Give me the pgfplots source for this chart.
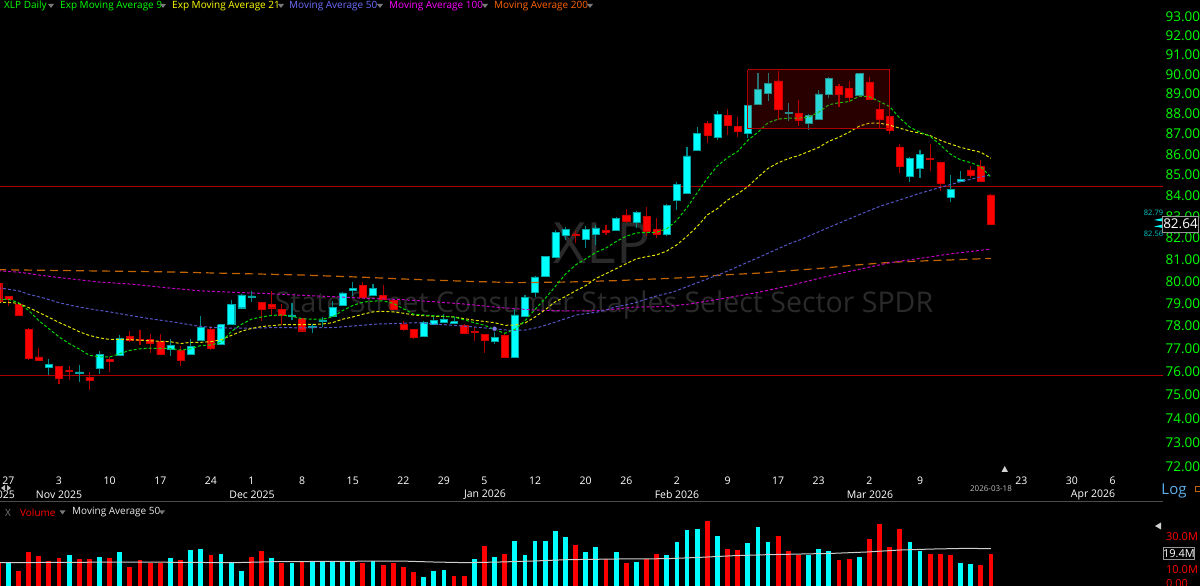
\documentclass[border=0pt]{standalone}
\usepackage{fontspec}
\usepackage{pgfplots}
\pgfplotsset{compat=1.18}
\setmainfont{Open Sans}
\definecolor{cy}{RGB}{0,255,255}
\definecolor{cyb}{RGB}{0,165,165}
\definecolor{cyw}{RGB}{0,135,135}
\definecolor{rd}{RGB}{255,0,0}
\definecolor{rdb}{RGB}{205,0,0}
\definecolor{rdw}{RGB}{175,0,0}
\definecolor{gr}{RGB}{0,215,0}
\definecolor{yl}{RGB}{225,225,0}
\definecolor{bl}{RGB}{85,85,200}
\definecolor{mg}{RGB}{195,0,195}
\definecolor{og}{RGB}{195,100,0}
\definecolor{wm}{RGB}{42,42,42}
\definecolor{tickg}{RGB}{0,255,0}
\newcommand{\fs}[1]{\fontsize{#1}{#1}\selectfont}
\newcommand{\Cy}[5]{\pgfmathsetmacro\xa{#1-0.35}\pgfmathsetmacro\xb{#1+0.35}%
 \addplot[cyw,line width=1.1pt,forget plot] coordinates {(#1,#2)(#1,#3)};%
 \addplot[draw=cyb,fill=cy,line width=.45pt,forget plot] coordinates {(\xa,#4)(\xb,#4)(\xb,#5)(\xa,#5)(\xa,#4)};}
\newcommand{\Rd}[5]{\pgfmathsetmacro\xa{#1-0.35}\pgfmathsetmacro\xb{#1+0.35}%
 \addplot[rdw,line width=1.1pt,forget plot] coordinates {(#1,#2)(#1,#3)};%
 \addplot[draw=rdb,fill=rd,line width=.45pt,forget plot] coordinates {(\xa,#4)(\xb,#4)(\xb,#5)(\xa,#5)(\xa,#4)};}
\begin{document}
\begin{tikzpicture}[x=1pt,y=1pt]
\path[use as bounding box] (0,0) rectangle (1200,586);
\fill[black] (0,0) rectangle (1200,586);
% watermarks
\node[wm,anchor=center,inner sep=0pt] at (602,343) {\fs{57}XLP};
\node[wm,anchor=center,inner sep=0pt] at (604,281) {\fs{28.5}State Street Consumer Staples Select Sector SPDR};
% price pane (logarithmic price scale)
\begin{axis}[at={(0pt,111pt)},anchor=south west,scale only axis,width=1163pt,height=475pt,
 xmin=0.178,xmax=114.985,ymin=71.63,ymax=93.85,
 y coord trafo/.code={\pgfmathparse{100*ln(#1)}},
 y coord inv trafo/.code={\pgfmathparse{exp(#1/100)}},
 axis line style={draw=none},major tick length=0pt,minor tick length=0pt,
 yticklabel pos=right,
 ytick={72,73,74,75,76,77,78,79,80,81,82,83,84,85,86,87,88,89,90,91,92,93},
 yticklabels={72.00,73.00,74.00,75.00,76.00,77.00,78.00,79.00,80.00,81.00,82.00,83.00,84.00,85.00,86.00,87.00,88.00,89.00,90.00,91.00,92.00,93.00},
 y tick label style={text=tickg,font=\fs{13.5},anchor=west,inner sep=0pt,xshift=2.5pt,yshift=-0.7pt},
 xtick={1,6,11,16,21,25,30,35,40,44,48,53,58,62,67,72,77,81,86,91,101,106,110},
 xticklabels={27,3,10,17,24,1,8,15,22,29,5,12,20,26,2,9,17,23,2,9,23,30,6},
 x tick label style={white,font=\fs{10.5},anchor=center,inner sep=0pt,yshift=-5.5pt}]
\addplot[rdw,line width=.9pt,forget plot] coordinates {(0.178,84.41)(114.985,84.41)};
\addplot[rdw,line width=.6pt,forget plot] coordinates {(0.178,75.83)(114.985,75.83)};
% candles: index, high, low, body top, body bottom
\Rd{0}{79.90}{79.10}{79.88}{79.10}
\Rd{1}{79.33}{78.88}{79.31}{79.19}
\Rd{2}{79.05}{78.44}{78.94}{78.44}
\Rd{3}{77.91}{76.49}{77.84}{76.55}
\Rd{4}{76.98}{76.48}{76.62}{76.48}
\Cy{5}{76.52}{75.83}{76.30}{76.16}
\Rd{6}{76.20}{75.46}{76.20}{75.69}
\Rd{7}{76.22}{75.59}{76.02}{75.98}
\Cy{8}{76.25}{75.53}{75.96}{75.89}
\Rd{9}{75.96}{75.19}{75.74}{75.59}
\Cy{10}{76.86}{75.87}{76.72}{76.10}
\Rd{11}{76.62}{75.97}{76.51}{76.44}
\Cy{12}{77.55}{76.65}{77.42}{76.67}
\Rd{13}{77.73}{77.28}{77.51}{77.32}
\Rd{14}{77.81}{77.13}{77.38}{77.34}
\Rd{15}{77.62}{76.80}{77.37}{77.23}
\Rd{16}{77.62}{76.73}{77.28}{76.73}
\Cy{17}{77.38}{76.65}{77.13}{76.95}
\Rd{18}{77.08}{76.23}{76.92}{76.48}
\Cy{19}{77.41}{76.70}{77.09}{76.72}
\Cy{20}{78.41}{77.33}{77.91}{77.33}
\Rd{21}{77.96}{76.91}{77.81}{76.98}
\Cy{22}{78.08}{77.16}{78.04}{77.16}
\Cy{23}{79.13}{78.03}{78.94}{78.03}
\Cy{24}{79.43}{78.79}{79.37}{78.79}
\Cy{25}{79.55}{79.03}{79.33}{79.27}
\Rd{26}{79.04}{78.18}{79.04}{78.75}
\Rd{27}{79.55}{78.46}{78.94}{78.79}
\Rd{28}{78.94}{78.02}{78.72}{78.46}
\Cy{29}{79.01}{78.24}{78.47}{78.39}
\Rd{30}{78.30}{77.72}{78.30}{77.76}
\Cy{31}{78.06}{77.67}{77.98}{77.92}
\Cy{32}{78.38}{77.94}{78.25}{78.16}
\Cy{33}{79.10}{78.39}{78.82}{78.39}
\Cy{34}{79.49}{78.91}{79.45}{78.91}
\Cy{35}{79.93}{79.33}{79.66}{79.58}
\Rd{36}{79.94}{79.27}{79.80}{79.27}
\Cy{37}{79.88}{79.37}{79.67}{79.37}
\Rd{38}{79.80}{79.13}{79.34}{79.16}
\Rd{39}{79.16}{78.75}{79.13}{78.75}
\Rd{40}{78.19}{77.74}{78.03}{77.84}
\Rd{41}{77.81}{77.41}{77.81}{77.50}
\Cy{42}{78.19}{77.53}{78.12}{77.53}
\Cy{43}{78.39}{78.00}{78.24}{78.03}
\Cy{44}{78.49}{78.10}{78.28}{78.13}
\Cy{45}{78.37}{78.07}{78.16}{78.10}
\Rd{46}{78.06}{77.66}{78.00}{77.66}
\Rd{47}{77.94}{77.29}{77.74}{77.69}
\Rd{48}{77.60}{76.77}{77.60}{77.35}
\Cy{49}{77.70}{77.16}{77.48}{77.31}
\Rd{50}{77.65}{76.59}{77.57}{76.59}
\Cy{51}{78.71}{76.54}{78.46}{76.59}
\Cy{52}{79.34}{78.42}{79.27}{78.42}
\Cy{53}{80.23}{79.25}{80.17}{79.49}
\Cy{54}{81.14}{80.20}{81.11}{80.20}
\Cy{55}{82.34}{81.09}{82.22}{81.09}
\Cy{56}{82.50}{81.85}{82.36}{82.08}
\Rd{57}{82.31}{81.75}{82.16}{82.08}
\Cy{58}{82.53}{81.49}{82.36}{81.92}
\Cy{59}{82.58}{81.66}{82.44}{82.16}
\Rd{60}{82.55}{82.09}{82.34}{82.23}
\Cy{61}{82.95}{82.31}{82.90}{82.34}
\Rd{62}{83.33}{82.66}{83.05}{82.77}
\Cy{63}{83.25}{82.45}{83.18}{82.72}
\Rd{64}{83.41}{82.05}{82.99}{82.30}
\Rd{65}{82.88}{81.98}{82.36}{82.13}
\Cy{66}{83.55}{82.05}{83.52}{82.16}
\Cy{67}{84.63}{83.29}{84.49}{83.73}
\Cy{68}{86.31}{84.08}{85.89}{84.08}
\Cy{69}{87.33}{86.18}{87.00}{86.18}
\Rd{70}{87.62}{86.51}{87.50}{86.90}
\Cy{71}{88.10}{86.69}{87.95}{86.79}
\Rd{72}{88.23}{86.89}{87.90}{87.38}
\Rd{73}{87.82}{86.80}{87.33}{87.10}
\Cy{74}{88.68}{86.75}{88.40}{86.98}
\Cy{75}{90.05}{88.45}{89.20}{88.45}
\Cy{76}{90.02}{88.63}{89.51}{89.00}
\Rd{77}{90.14}{87.67}{89.63}{88.17}
\Cy{78}{88.53}{87.62}{88.05}{87.98}
\Rd{79}{88.67}{87.38}{87.98}{87.62}
\Cy{80}{87.95}{87.18}{87.90}{87.50}
\Cy{81}{89.17}{87.67}{88.97}{87.67}
\Cy{82}{89.80}{88.78}{89.76}{88.93}
\Rd{83}{89.47}{88.33}{89.33}{88.97}
\Rd{84}{89.63}{88.58}{89.25}{88.82}
\Cy{85}{90.05}{88.92}{90.00}{88.92}
\Rd{86}{89.80}{88.68}{89.54}{88.68}
\Rd{87}{88.53}{87.20}{88.20}{87.70}
\Rd{88}{87.92}{86.95}{87.82}{87.13}
\Rd{89}{86.48}{85.05}{86.33}{85.38}
\Cy{90}{85.85}{84.62}{85.75}{84.90}
\Cy{91}{86.18}{84.81}{85.97}{85.26}
\Rd{92}{86.48}{85.16}{85.77}{85.70}
\Rd{93}{85.60}{84.21}{85.57}{84.54}
\Cy{94}{84.95}{83.68}{84.27}{83.89}
\Cy{95}{85.13}{84.60}{84.73}{84.67}
\Rd{96}{85.41}{84.83}{85.20}{84.94}
\Rd{97}{85.69}{84.65}{85.39}{84.65}
\Rd{98}{84.03}{82.62}{84.00}{82.62}
% Moving Average 200
\addplot[og,line width=1.2pt,dash pattern=on 8pt off 5pt,forget plot] coordinates {
(0,80.50)(3.5,80.48)(10,80.44)(16.6,80.40)(23.2,80.33)(29.8,80.26)(36.4,80.15)(39.7,80.08)(46.3,79.98)(51.2,79.92)(56.1,79.95)(61,80.00)(66,80.10)(68.3,80.15)(71.5,80.26)(74.9,80.34)(78.2,80.46)(81.4,80.57)(84.8,80.72)(88.1,80.84)(91,80.90)(94,80.95)(98,81.02)};
% Moving Average 100
\addplot[mg,line width=1pt,dash pattern=on 3pt off 2pt,forget plot] coordinates {
(0,80.45)(2.2,80.38)(4.1,80.25)(6.8,80.10)(10,79.95)(13.3,79.85)(16.6,79.70)(19.9,79.55)(23.2,79.48)(26.5,79.43)(29.8,79.36)(33.1,79.28)(36.4,79.21)(39.7,79.16)(43,79.06)(46.3,78.95)(49.5,78.80)(52.8,78.69)(56.1,78.64)(59.4,78.66)(62.7,78.81)(66,78.84)(68.3,78.96)(71.5,79.20)(74.9,79.47)(78.2,79.80)(81.4,80.15)(84.8,80.50)(88.1,80.83)(91,81.02)(94,81.23)(98,81.45)};
% Moving Average 50
\addplot[bl,line width=1pt,dash pattern=on 3pt off 2pt,forget plot] coordinates {
(0,79.70)(2,79.56)(3,79.40)(4.5,79.22)(6,79.01)(7.7,78.84)(9.7,78.69)(11.4,78.57)(13.3,78.42)(15.3,78.28)(17.6,78.13)(19.6,77.98)(21.2,77.91)(23.2,77.88)(25.2,77.88)(27.2,77.91)(29.1,77.89)(31.1,77.89)(33.1,77.91)(35.1,77.98)(37.4,78.06)(39.7,78.09)(41.3,78.12)(43,78.06)(44.9,78.01)(46.9,77.94)(48.9,77.85)(50.5,77.78)(52,77.79)(53.5,77.94)(55.1,78.16)(57.1,78.46)(59.4,78.61)(61,78.83)(62.7,78.98)(64.7,79.28)(66.6,79.50)(68.3,79.80)(71.5,80.34)(74.9,81.03)(78.2,81.72)(79.15,81.88)(81.8,82.42)(85.1,83.08)(87,83.45)(89,83.76)(91,84.08)(93,84.36)(95,84.63)(97,84.87)(98,84.95)};
% Exp Moving Average 21
\addplot[yl,line width=1pt,dash pattern=on 3pt off 2pt,forget plot] coordinates {
(0,79.03)(1,79.03)(2,78.98)(3,78.80)(4,78.58)(5,78.36)(6,78.13)(7,77.93)(8,77.72)(9,77.55)(10,77.45)(11,77.38)(12,77.38)(13,77.37)(14,77.35)(15,77.32)(16,77.30)(17,77.28)(18,77.20)(19,77.25)(20,77.26)(21,77.28)(22,77.37)(23,77.55)(24,77.74)(25,77.86)(26,77.95)(27,77.99)(28,78.03)(29,78.04)(30,78.04)(31,78.05)(32,78.06)(33,78.12)(34,78.28)(35,78.38)(36,78.50)(37,78.60)(38,78.63)(39,78.60)(40,78.55)(41,78.46)(42,78.43)(43,78.41)(44,78.40)(45,78.38)(46,78.30)(47,78.23)(48,78.18)(49,78.12)(50,78.00)(51,78.01)(52,78.10)(53,78.38)(54,78.70)(55,79.05)(56,79.30)(57,79.55)(58,79.78)(59,80.10)(60,80.32)(61,80.55)(62,80.78)(63,81.00)(64,81.10)(65,81.18)(66,81.36)(67,81.65)(68,82.05)(69,82.50)(70,83.05)(71,83.35)(72,83.75)(73,84.05)(74,84.40)(75,84.85)(76,85.28)(77,85.55)(78,85.75)(79,85.90)(80,86.10)(81,86.30)(82,86.60)(83,86.80)(84,87.05)(85,87.35)(86,87.50)(87,87.50)(88,87.40)(89,87.25)(90,87.10)(91,87.00)(92,86.88)(93,86.65)(94,86.47)(95,86.30)(96,86.18)(97,86.06)(98,85.77)};
% Exp Moving Average 9
\addplot[gr,line width=1pt,dash pattern=on 3pt off 2pt,forget plot] coordinates {
(0,79.17)(1,79.17)(2,79.02)(3,78.68)(4,78.22)(5,77.85)(6,77.50)(7,77.20)(8,76.95)(9,76.68)(10,76.62)(11,76.61)(12,76.75)(13,76.90)(14,76.97)(15,77.00)(16,76.99)(17,76.98)(18,76.91)(19,76.97)(20,77.11)(21,77.14)(22,77.25)(23,77.72)(24,78.05)(25,78.28)(26,78.38)(27,78.44)(28,78.46)(29,78.40)(30,78.30)(31,78.27)(32,78.28)(33,78.38)(34,78.66)(35,78.88)(36,79.04)(37,79.09)(38,79.10)(39,78.98)(40,78.75)(41,78.50)(42,78.46)(43,78.43)(44,78.41)(45,78.38)(46,78.25)(47,78.12)(48,78.00)(49,77.82)(50,77.65)(51,77.82)(52,78.20)(53,78.72)(54,79.20)(55,79.75)(56,80.30)(57,80.72)(58,81.00)(59,81.30)(60,81.50)(61,81.80)(62,82.05)(63,82.20)(64,82.23)(65,82.23)(66,82.40)(67,82.80)(68,83.40)(69,84.10)(70,84.80)(71,85.40)(72,85.80)(73,86.10)(74,86.65)(75,87.05)(76,87.52)(77,87.70)(78,87.75)(79,87.75)(80,87.80)(81,88.05)(82,88.42)(83,88.52)(84,88.58)(85,88.85)(86,88.83)(87,88.58)(88,88.33)(89,87.75)(90,87.30)(91,87.05)(92,86.85)(93,86.43)(94,85.97)(95,85.69)(96,85.56)(97,85.36)(98,84.85)};
% marker dot
\addplot[only marks,mark=*,mark size=2.6pt,mark options={fill={rgb,255:red,125;green,125;blue,235},draw=none},forget plot] coordinates {(49,77.85)};
% highlighted rectangle
\addplot[draw=rdw,line width=1pt,fill=rd,fill opacity=.16,forget plot] coordinates {(74,90.19)(87.97,90.19)(87.97,87.23)(74,87.23)(74,90.19)};
\end{axis}
% volume pane
\begin{axis}[at={(0pt,0pt)},anchor=south west,scale only axis,width=1163pt,height=83pt,
 xmin=0.178,xmax=114.985,ymin=0.42,ymax=50.2,
 axis line style={draw=none},major tick length=0pt,
 xtick=\empty,yticklabel pos=right,ytick={10,30},yticklabels={10.0M,30.0M},
 y tick label style={text=rd,font=\fs{11},anchor=west,inner sep=0pt,xshift=3pt}]
\addplot[ycomb,no markers,rd,line width=4.8pt,forget plot] coordinates {
(0,14.0)(2,9.6)(3,20.8)(4,18.4)(5,15.4)(6,17.0)(8,16.4)(9,16.4)(11,17.4)(13,12.0)(14,15.8)(15,14.0)(16,14.0)(18,15.8)(21,18.8)(25,17.8)(26,21.2)(28,14.4)(30,15.4)(36,14.0)(38,13.0)(39,14.0)(40,12.0)(41,8.6)(45,6.6)(46,6.6)(48,24.2)(50,19.8)(57,24.8)(60,16.4)(62,14.0)(64,16.4)(65,19.8)(70,39.4)(72,22.8)(73,21.8)(77,30.6)(78,21.2)(79,19.0)(83,16.0)(84,16.8)(86,28.6)(87,37.6)(88,23.6)(89,34.6)(92,19.8)(93,19.4)(94,18.8)(97,13.0)(98,19.4)};
\addplot[ycomb,no markers,cy,line width=4.8pt,forget plot] coordinates {
(1,15.0)(7,18.8)(10,18.0)(12,20.8)(17,17.4)(19,22.2)(20,22.8)(22,19.4)(23,14.0)(24,9.6)(27,17.4)(29,14.0)(31,14.8)(32,14.8)(33,14.8)(34,15.4)(35,15.4)(37,15.2)(42,5.6)(43,9.6)(44,10.2)(47,16.8)(49,17.8)(51,27.2)(52,18.8)(53,27.2)(54,27.2)(55,33.6)(56,30.0)(58,20.8)(59,23.8)(61,20.8)(63,14.6)(66,18.8)(67,26.6)(68,34.0)(69,34.4)(71,30.6)(74,26.2)(75,36.0)(76,26.6)(80,18.8)(81,22.8)(82,21.2)(85,17.8)(90,26.6)(91,21.2)(95,14.0)(96,13.4)};
\addplot[line width=1pt,color={rgb,255:red,205;green,205;blue,205},forget plot] coordinates {
(0.2,14.4)(13.3,14.8)(23.2,14.4)(27.2,15.0)(39.7,15.4)(43,14.8)(46.3,14.4)(49.5,14.8)(52.8,15.4)(56.1,16.2)(61,16.6)(66,16.8)(69.3,17.6)(72.6,18.6)(75.9,19.2)(79.2,19.6)(82.4,20.0)(85.7,20.8)(89,22.0)(92.3,22.6)(95.6,23.0)(98,22.8)};
\end{axis}
% separator
\draw[line width=1pt,color={rgb,255:red,75;green,75;blue,75}] (0,84) -- (1163,84);
% month labels
\begin{scope}[every node/.style={text=white,inner sep=0pt,anchor=center,font=\fs{10.5}}]
\node at (59,91) {Nov 2025};
\node at (252,91) {Dec 2025};
\node at (485,91) {Jan 2026};
\node at (677,91) {Feb 2026};
\node at (870,91) {Mar 2026};
\node at (1093,91) {Apr 2026};
\node[anchor=east] at (15,91) {2025};
\end{scope}
\node[text={rgb,255:red,190;green,190;blue,190},inner sep=0pt,font=\fs{8}] at (991,97.5) {2026-03-18};
\fill[color={rgb,255:red,210;green,210;blue,210}] (1001.5,114) -- (1008,114) -- (1004.7,120) -- cycle;
\fill[color={rgb,255:red,210;green,210;blue,210}] (1155,60) -- (1161,56.5) -- (1161,63.5) -- cycle;
% small cross arrows at the left
\fill[color={rgb,255:red,190;green,190;blue,190}] (1,98) -- (5,101) -- (5,95) -- cycle;
\fill[color={rgb,255:red,190;green,190;blue,190}] (11,98) -- (7,101) -- (7,95) -- cycle;
% Log
\node[text={rgb,255:red,95;green,175;blue,235},inner sep=0pt,anchor=center,font=\fs{15}] at (1174,95.5) {Log};
\draw[color={rgb,255:red,190;green,100;blue,20},line width=.9pt] (1195,94.5) rectangle (1201,100);
% 19.4M, 0.00
\node[text=rd,inner sep=0pt,font=\fs{11},anchor=west] at (1166,2) {0.00};
\node[draw={rgb,255:red,150;green,150;blue,150},fill=black,text=white,line width=.8pt,inner sep=0pt,minimum width=31pt,minimum height=12pt,font=\fs{11}] at (1179,32.5) {19.4M};
% last price
\fill[cy] (1154,366) -- (1163,368) -- (1163,364.5) -- cycle;
\fill[cy] (1154,359.5) -- (1163,361.5) -- (1163,358) -- cycle;
\node[draw={rgb,255:red,150;green,150;blue,150},fill=black,text=white,line width=.8pt,inner sep=0pt,minimum width=36pt,minimum height=16pt,font=\fs{13.5}] at (1180.5,362) {82.64};
\node[text={rgb,255:red,0;green,200;blue,200},inner sep=0pt,font=\fs{7.5}] at (1153.5,373) {82.79};
\node[text={rgb,255:red,0;green,200;blue,200},inner sep=0pt,font=\fs{7.5}] at (1153.5,352) {82.56};
% legends
\begin{scope}[every node/.style={inner sep=0pt,anchor=west,font=\fs{10}}]
\node[text={rgb,255:red,0;green,255;blue,0}] at (4,580) {XLP Daily};
\node[text={rgb,255:red,0;green,255;blue,0}] at (60,580) {Exp Moving Average 9};
\node[text={rgb,255:red,255;green,255;blue,0}] at (172,580) {Exp Moving Average 21};
\node[text={rgb,255:red,110;green,110;blue,255}] at (289,580) {Moving Average 50};
\node[text={rgb,255:red,255;green,0;blue,255}] at (389,580) {Moving Average 100};
\node[text={rgb,255:red,255;green,100;blue,0}] at (494,580) {Moving Average 200};
\node[text={rgb,255:red,120;green,120;blue,120}] at (5,73.5) {X};
\node[text=rd] at (20,73.5) {Volume};
\node[text={rgb,255:red,235;green,235;blue,235}] at (72,73.5) {Moving Average 50};
\end{scope}
\begin{scope}[color={rgb,255:red,120;green,120;blue,120}]
\foreach \a in {51,163,281,380,485,590} {\fill (\a-3,582) -- (\a+3,582) -- (\a,578) -- cycle;}
\foreach \a in {62.5,162} {\fill (\a-3,75.5) -- (\a+3,75.5) -- (\a,71.5) -- cycle;}
\end{scope}
\end{tikzpicture}
\end{document}
